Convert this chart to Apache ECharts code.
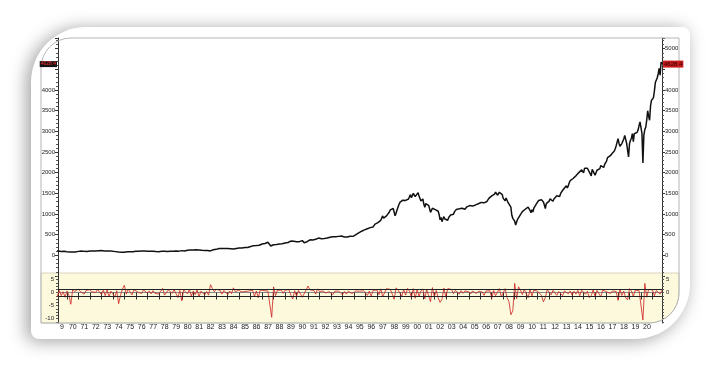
<!DOCTYPE html>
<html><head><meta charset="utf-8">
<script src="https://cdn.jsdelivr.net/npm/echarts@6/dist/echarts.min.js"></script>
<style>html,body{margin:0;padding:0;background:#fff}#c{width:720px;height:370px}</style>
</head><body><div id="c"></div>
<script>
// Monthly index level, one row per year, Jan..Dec (1969 .. Nov 2021)
const spx1969_1979 = [
 103,98,101,103,103,97,92,95,93,97,94,92,
 85,89,90,82,77,73,78,82,84,83,87,92,
 96,97,100,104,100,99,96,99,98,94,94,102,
 104,106,107,108,110,107,107,111,111,112,117,118,
 116,112,112,107,105,104,108,104,108,108,96,98,
 97,96,94,90,87,86,79,72,64,74,70,69,
 77,82,83,87,91,95,89,87,84,89,91,90,
 101,100,103,102,100,104,103,103,105,103,102,107,
 102,100,98,98,96,100,99,97,97,92,95,95,
 89,87,89,97,97,96,101,103,102,93,95,96,
 100,96,102,102,99,103,104,109,109,102,106,108
];
const spx1980_1989 = [
 114,114,102,106,111,114,122,122,125,127,140,136,
 130,131,136,133,133,131,131,123,116,122,126,123,
 120,113,112,116,112,110,107,120,120,134,139,141,
 145,148,153,164,162,168,163,164,166,164,166,165,
 163,157,159,160,151,153,151,167,166,166,163,167,
 180,181,181,180,190,192,191,188,182,190,202,211,
 212,227,239,235,247,251,236,253,231,244,249,242,
 274,284,292,288,290,304,318,330,322,225,230,247,
 257,268,259,261,262,274,272,262,272,279,274,278,
 297,289,295,310,321,318,346,351,349,340,346,353
];
const spx1990_1999 = [
 329,332,340,331,361,358,356,323,306,304,322,330,
 344,367,375,375,390,371,388,395,388,392,375,417,
 409,412,404,415,415,408,424,414,418,419,431,436,
 439,443,452,440,450,451,448,464,459,468,462,466,
 481,467,446,451,457,444,458,475,463,472,454,459,
 470,487,501,515,533,545,562,562,584,582,605,616,
 636,640,645,654,669,671,640,652,687,705,757,741,
 786,791,757,801,848,885,954,899,947,915,955,970,
 980,1049,1102,1112,1091,1134,1121,957,1017,1099,1164,1229,
 1280,1238,1286,1335,1302,1373,1329,1320,1283,1363,1389,1469
];
const spx2000_2009 = [
 1394,1366,1499,1452,1421,1455,1431,1518,1437,1429,1315,1320,
 1366,1240,1160,1249,1256,1224,1211,1134,1041,1060,1139,1148,
 1130,1107,1147,1077,1067,990,860,916,815,886,936,880,
 856,841,848,917,964,975,990,1008,996,1051,1058,1112,
 1131,1145,1126,1107,1121,1141,1102,1104,1115,1130,1174,1212,
 1181,1204,1181,1157,1192,1191,1234,1220,1229,1207,1249,1248,
 1280,1281,1295,1311,1270,1270,1277,1304,1336,1378,1401,1418,
 1438,1407,1421,1482,1531,1503,1455,1474,1527,1556,1481,1468,
 1379,1331,1323,1386,1400,1280,1267,1283,1166,969,896,903,
 826,735,745,873,919,919,987,1021,1057,1036,1096,1115
];
const spx2010_2021 = [
 1074,1104,1169,1187,1089,1031,1102,1049,1141,1183,1181,1258,
 1286,1327,1326,1364,1345,1321,1292,1219,1131,1253,1247,1258,
 1312,1366,1408,1398,1310,1362,1379,1407,1441,1412,1416,1426,
 1498,1515,1569,1598,1631,1606,1686,1633,1682,1757,1806,1848,
 1783,1859,1872,1884,1924,1960,1931,2003,1972,2018,2068,2059,
 1995,2105,2068,2086,2107,2063,2104,1972,1920,2079,2080,2044,
 1940,1932,2060,2065,2097,2099,2174,2171,2168,2126,2199,2239,
 2279,2364,2363,2384,2412,2423,2470,2472,2519,2575,2648,2674,
 2824,2714,2641,2648,2705,2718,2816,2902,2914,2712,2760,2380,
 2704,2784,2834,2946,2752,2942,2980,2926,2977,3038,3141,3231,
 3226,2954,2237,2912,3044,3100,3271,3500,3363,3270,3622,3756,
 3714,3811,3973,4181,4204,4298,4395,4523,4358,4680,4628.4
];
// Lower panel: period returns (%), six per year, 1969 .. 2021
const ret1969_1989 = [
 0.5,-1.5,0.8,-1.2,0.3,-1.8,
 0.6,-1.0,-4.5,1.2,0.4,1.0,
 1.3,0.4,1.0,-0.6,0.8,0.2,
 1.1,0.3,0.9,0.0,1.2,0.6,
 -0.8,0.9,-1.2,1.0,-1.6,0.5,
 -0.5,-1.8,0.7,-4.3,-1.0,1.3,
 2.8,-0.6,1.3,0.2,-0.9,1.1,
 1.5,0.2,0.9,-0.4,1.0,0.5,
 -0.2,0.6,-0.5,0.7,-0.3,0.4,
 -0.6,0.5,1.6,-1.0,-1.3,1.0,
 0.7,-0.3,1.1,0.4,-1.9,0.8,
 -3.2,1.0,1.5,-0.5,1.2,-1.4,
 0.6,-0.8,1.0,-1.6,0.5,1.2,
 -0.9,0.4,-1.0,3.0,1.6,0.3,
 1.2,0.5,0.9,-0.6,0.8,0.4,
 -0.8,0.6,-0.4,1.8,0.3,0.7,
 1.0,0.2,0.8,0.4,1.1,0.6,
 1.3,0.9,-1.5,0.6,-2.0,1.0,
 1.5,0.7,1.0,0.6,1.2,-9.5,
 2.2,-1.2,0.8,0.4,1.0,-0.3,
 0.9,0.6,1.1,-1.0,-2.5,0.7
];
const ret1990_2009 = [
 -1.4,0.8,0.5,-1.8,-2.2,1.0,
 2.5,1.0,0.3,0.8,-0.6,1.4,
 0.4,0.2,0.6,-0.2,0.5,0.3,
 0.4,-0.8,0.5,0.3,0.6,0.2,
 -0.9,0.4,-0.6,0.5,0.2,-0.4,
 0.3,0.6,0.2,0.5,0.4,0.7,
 1.0,-1.1,0.5,-1.4,0.8,1.2,
 1.0,-0.8,1.4,-1.6,-2.2,1.5,
 0.8,1.2,-0.6,-2.6,1.8,1.0,
 1.3,-1.4,1.2,-1.0,1.6,0.5,
 -1.8,1.5,-2.2,1.1,-1.4,0.6,
 1.4,-2.4,1.2,-1.1,-3.5,1.9,
 -1.6,0.8,-2.0,-3.8,-2.6,1.7,
 -1.8,1.5,0.9,1.2,-0.4,0.8,
 0.5,-0.6,0.7,-0.3,0.6,0.4,
 0.3,-0.5,0.6,0.2,-0.4,0.5,
 0.4,0.2,-1.1,0.6,0.3,0.7,
 -2.2,0.8,-1.2,-1.6,1.5,-1.7,
 -1.8,1.5,-2.0,-3.5,-8.5,-7.0,
 3.5,-2.4,2.2,1.0,-0.8,1.2
];
const ret2010_2021 = [
 0.6,-2.0,1.1,-1.3,0.9,0.7,
 0.5,0.8,-1.1,-3.6,-1.9,1.2,
 0.6,-0.9,0.8,0.5,-1.1,0.4,
 0.7,-1.2,0.6,0.3,-0.5,0.6,
 -1.0,0.5,-0.6,0.8,-1.2,0.9,
 0.4,-0.7,0.5,-2.0,-1.2,1.0,
 -1.5,0.8,0.3,-1.6,0.9,0.5,
 0.3,0.5,-0.4,0.6,0.2,0.4,
 -3.0,1.3,-1.1,0.5,-2.0,-2.8,
 1.5,0.6,-1.5,0.9,0.4,0.7,
 0.8,-10.5,3.5,-1.8,1.2,0.9,
 1.0,-1.3,0.8,1.1,-0.6,0.9
];
const bandLevels = [1.3, -1.3];
const mainLeftLabels = [0,500,1000,1500,2000,2500,3000,3500,4000];
const mainRightLabels = [0,500,1000,1500,2000,2500,3000,3500,4000,5000];
const lowerLeftLabels = [-10,-5,0,5];
const lowerRightLabels = [0,5];
const lowerTicks = [-11.25,-10,-8.75,-7.5,-6.25,-5,-3.75,-2.5,-1.25,0,1.25,2.5,3.75,5,6.25];
const xTickYears = [];
for (let y = 1970; y <= 2021; y++) xTickYears.push(y);
const xLabelYears = xTickYears.filter(y => y <= 2020);

const spx = [].concat(spx1969_1979, spx1980_1989, spx1990_1999, spx2000_2009, spx2010_2021);
const ret = [].concat(ret1969_1989, ret1990_2009, ret2010_2021);
const spxData = spx.map((v, i) => [1969 + i / 12, v]);
const retData = ret.map((v, i) => [1969 + i / 6, v]);
const last = spx[spx.length - 1];

const xMin = 1969.22, xMax = 2021.83;
const font = '"Liberation Sans", Arial, sans-serif';
const axisCol = '#333';

function mainY(pos, labels) {
  return {
    gridIndex: 0, type: 'value', position: pos, min: -500, max: 5260, interval: 500,
    axisLine: { show: true, lineStyle: { color: axisCol, width: 1 } },
    axisTick: { show: true, length: 3, lineStyle: { color: axisCol } },
    minorTick: { show: true, splitNumber: 5, length: 2, lineStyle: { color: '#555' } },
    splitLine: { show: false },
    axisLabel: { customValues: labels, fontSize: 6, color: '#222', margin: 3, fontFamily: font,
      formatter: v => String(v) }
  };
}
function lowY(pos, labels) {
  return {
    gridIndex: 1, type: 'value', position: pos, min: -11.7, max: 7.5,
    axisLine: { show: true, lineStyle: { color: axisCol, width: 1 } },
    axisTick: { show: true, customValues: lowerTicks, length: 2, lineStyle: { color: '#555' } },
    splitLine: { show: false },
    axisLabel: { customValues: labels, fontSize: 6, color: '#222', margin: 4, fontFamily: font,
      formatter: v => String(v) }
  };
}

const chart = echarts.init(document.getElementById('c'));
chart.setOption({
  animation: false,
  backgroundColor: '#fff',
  graphic: [
    { type: 'rect', z: -20, shape: { x: 31, y: 27, width: 659, height: 312, r: [55, 8, 55, 8] },
      style: { fill: '#fff', shadowBlur: 18, shadowColor: 'rgba(0,0,0,0.38)', shadowOffsetX: -4, shadowOffsetY: 2 } },
    { type: 'rect', z: -10, shape: { x: 41, y: 273, width: 638, height: 50, r: [0, 0, 30, 0] },
      style: { fill: '#fcf9dc', stroke: '#d8d6c0', lineWidth: 1 } },
    { type: 'rect', z: 5, shape: { x: 41, y: 38, width: 638, height: 285, r: [30, 0, 30, 0] },
      style: { fill: 'none', stroke: '#b5b5b5', lineWidth: 1 } }
  ],
  grid: [
    { left: 58, right: 58, top: 38, height: 238 },
    { left: 58, right: 58, top: 273, height: 50 }
  ],
  xAxis: [
    { gridIndex: 0, type: 'value', min: xMin, max: xMax, show: false },
    { gridIndex: 1, type: 'value', min: xMin, max: xMax,
      axisLine: { show: true, lineStyle: { color: '#888', width: 1 } },
      axisTick: { show: true, customValues: xTickYears, length: 7, lineStyle: { color: '#333' } },
      splitLine: { show: false },
      axisLabel: { customValues: [xMin].concat(xLabelYears), align: 'left', margin: 1,
        padding: [0, 0, 0, 2], fontSize: 7, color: '#222', fontFamily: font,
        formatter: v => v < 1970 ? '9' : String(Math.round(v) % 100).padStart(2, '0') } }
  ],
  yAxis: [ mainY('left', mainLeftLabels), mainY('right', mainRightLabels),
           lowY('left', lowerLeftLabels), lowY('right', lowerRightLabels) ],
  series: [
    { type: 'line', xAxisIndex: 0, yAxisIndex: 0, data: spxData, showSymbol: false, silent: true,
      lineStyle: { color: '#111', width: 1.5 }, z: 3,
      markLine: { silent: true, symbol: 'none', lineStyle: { color: 'rgba(0,0,0,0)', width: 0 },
        data: [
          { yAxis: last, label: { show: true, position: 'start', distance: 1, formatter: () => last.toFixed(1),
              fontSize: 5, color: '#ff2a2a', backgroundColor: '#151515', padding: [1, 1, 0, 1], fontFamily: font } },
          { yAxis: last, label: { show: true, position: 'end', distance: 1, formatter: () => last.toFixed(1),
              fontSize: 6, color: '#2a0000', backgroundColor: '#c81c1c', padding: [1, 1, 0, 1], fontFamily: font } }
        ] } },
    { type: 'line', xAxisIndex: 1, yAxisIndex: 2, data: retData, showSymbol: false, silent: true,
      lineStyle: { color: '#cc1f1f', width: 0.8 },
      markLine: { silent: true, symbol: 'none', label: { show: false },
        lineStyle: { color: '#222', width: 1, type: 'solid' },
        data: bandLevels.map(v => ({ yAxis: v })) } }
  ]
});
</script></body></html>
